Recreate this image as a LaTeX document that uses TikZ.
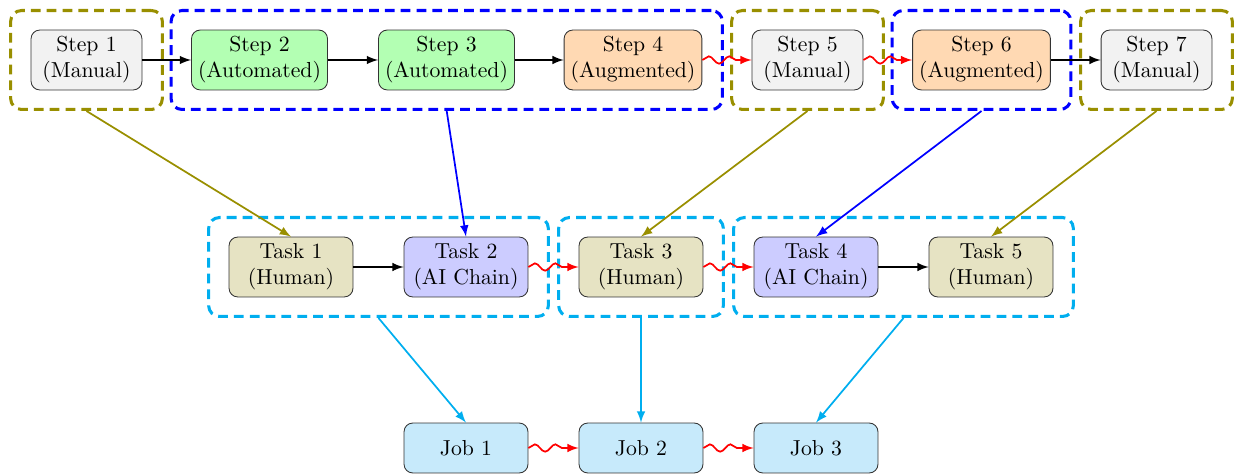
\documentclass[tikz,border=0pt]{standalone}
\usetikzlibrary{fit,decorations.pathmorphing,arrows}
\definecolor{olivec}{RGB}{153,143,0}
\definecolor{cyanc}{RGB}{0,174,239}
\definecolor{manualf}{RGB}{242,242,242}
\definecolor{autof}{RGB}{179,255,179}
\definecolor{augf}{RGB}{255,217,179}
\definecolor{humanf}{RGB}{230,227,195}
\definecolor{aif}{RGB}{204,204,255}
\definecolor{jobf}{RGB}{199,234,251}
\tikzset{
  box/.style={draw=black!80, rounded corners=4pt, align=center, inner xsep=3pt, inner ysep=2pt, minimum height=27.6pt},
  stepbox/.style={box, minimum width=51.1pt},
  widebox/.style={box, minimum width=62.2pt},
  taskbox/.style={box, minimum width=57.1pt},
  jobbox/.style={box, fill=jobf, minimum width=57.1pt, minimum height=23pt},
  grp/.style={rounded corners=5pt, line width=1.4pt, dash pattern=on 4.5pt off 2.8pt, inner xsep=9.2pt, inner ysep=8.8pt},
  flow/.style={-latex, thick, black},
  wavy/.style={-latex, red, thick, decorate, decoration={snake, amplitude=1.7pt, segment length=9.5pt, post length=3pt}},
  link/.style={-latex, thick}
}
\begin{document}
\begin{tikzpicture}[x=0.4608pt, y=-0.4608pt]
\useasboundingbox (0,0) rectangle (1235,474);
% steps
\node[stepbox, fill=manualf] (s1) at (86.5,60) {Step 1\\(Manual)};
\node[widebox, fill=autof] (s2) at (259.5,60) {Step 2\\(Automated)};
\node[widebox, fill=autof] (s3) at (446.5,60) {Step 3\\(Automated)};
\node[widebox, fill=augf] (s4) at (633,60) {Step 4\\(Augmented)};
\node[stepbox, fill=manualf] (s5) at (807.5,60) {Step 5\\(Manual)};
\node[widebox, fill=augf] (s6) at (981.5,60) {Step 6\\(Augmented)};
\node[stepbox, fill=manualf] (s7) at (1156.5,60) {Step 7\\(Manual)};
% tasks
\node[taskbox, fill=humanf] (t1) at (291,267) {Task 1\\(Human)};
\node[taskbox, fill=aif] (t2) at (466,267) {Task 2\\(AI Chain)};
\node[taskbox, fill=humanf] (t3) at (641,267) {Task 3\\(Human)};
\node[taskbox, fill=aif] (t4) at (816,267) {Task 4\\(AI Chain)};
\node[taskbox, fill=humanf] (t5) at (991,267) {Task 5\\(Human)};
% jobs
\node[jobbox] (j1) at (466,448) {Job 1};
\node[jobbox] (j2) at (641,448) {Job 2};
\node[jobbox] (j3) at (816,448) {Job 3};
% groups
\node[grp, draw=olivec, fit=(s1)] (g1) {};
\node[grp, draw=blue, fit=(s2)(s4)] (g2) {};
\node[grp, draw=olivec, fit=(s5)] (g3) {};
\node[grp, draw=blue, fit=(s6)] (g4) {};
\node[grp, draw=olivec, fit=(s7)] (g5) {};
\node[grp, draw=cyanc, fit=(t1)(t2)] (h1) {};
\node[grp, draw=cyanc, fit=(t3)] (h2) {};
\node[grp, draw=cyanc, fit=(t4)(t5)] (h3) {};
% step flow
\draw[flow] (s1) -- (s2);
\draw[flow] (s2) -- (s3);
\draw[flow] (s3) -- (s4);
\draw[wavy] (s4) -- (s5);
\draw[wavy] (s5) -- (s6);
\draw[flow] (s6) -- (s7);
% task flow
\draw[flow] (t1) -- (t2);
\draw[wavy] (t2) -- (t3);
\draw[wavy] (t3) -- (t4);
\draw[flow] (t4) -- (t5);
% job flow
\draw[wavy] (j1) -- (j2);
\draw[wavy] (j2) -- (j3);
% links
\draw[link, olivec] (g1.south) -- (t1.north);
\draw[link, blue] (g2.south) -- (t2.north);
\draw[link, olivec] (g3.south) -- (t3.north);
\draw[link, blue] (g4.south) -- (t4.north);
\draw[link, olivec] (g5.south) -- (t5.north);
\draw[link, cyanc] (h1.south) -- (j1.north);
\draw[link, cyanc] (h2.south) -- (j2.north);
\draw[link, cyanc] (h3.south) -- (j3.north);
\end{tikzpicture}
\end{document}
